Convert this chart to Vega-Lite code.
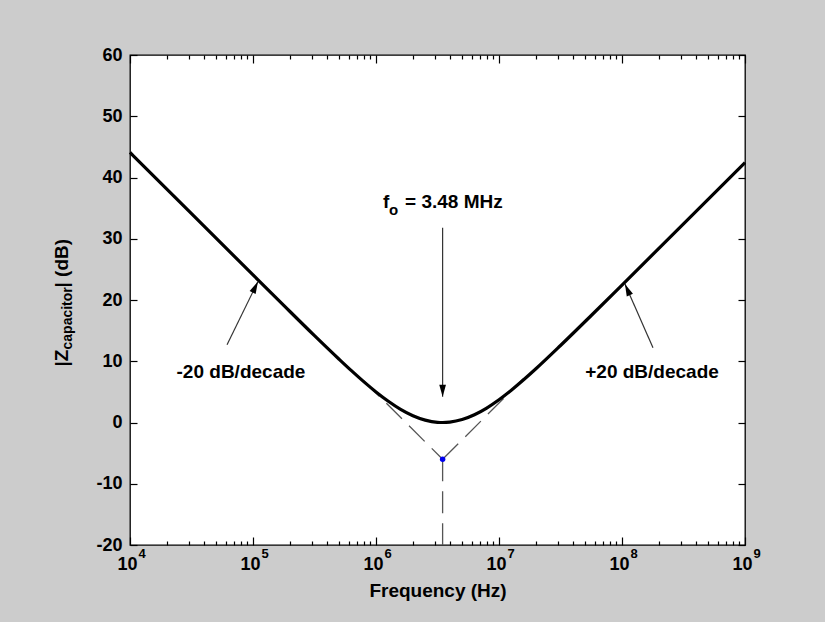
{
  "$schema": "https://vega.github.io/schema/vega-lite/v6.json",
  "width": 615,
  "height": 490,
  "autosize": {"type": "none"},
  "padding": {"left": 130, "top": 55, "right": 80, "bottom": 77},
  "background": "#cccccc",
  "config": {
    "view": {"fill": "white", "stroke": "black", "strokeWidth": 1.3},
    "axis": {
      "grid": false,
      "domain": false,
      "labelFlush": false,
      "tickColor": "black",
      "tickWidth": 1.2,
      "labelColor": "black",
      "labelFont": "Liberation Sans",
      "labelFontWeight": "bold",
      "labelFontSize": 18,
      "titleFont": "Liberation Sans",
      "titleFontWeight": "bold",
      "titleFontSize": 19,
      "titleColor": "black"
    },
    "text": {"font": "Liberation Sans", "fontWeight": "bold", "color": "black"}
  },
  "datasets": {
    "curve": [
      {"f": 10000, "db": 44.09},
      {"f": 31623, "db": 34.09},
      {"f": 100000, "db": 24.10},
      {"f": 177828, "db": 19.12},
      {"f": 316228, "db": 14.18},
      {"f": 501187, "db": 10.33},
      {"f": 630957, "db": 8.46},
      {"f": 794328, "db": 6.67},
      {"f": 1000000, "db": 4.99},
      {"f": 1258925, "db": 3.47},
      {"f": 1584893, "db": 2.15},
      {"f": 1995262, "db": 1.11},
      {"f": 2511886, "db": 0.39},
      {"f": 3162278, "db": 0.03},
      {"f": 3480000, "db": 0.0},
      {"f": 3981072, "db": 0.07},
      {"f": 5011872, "db": 0.48},
      {"f": 6309573, "db": 1.26},
      {"f": 7943282, "db": 2.36},
      {"f": 10000000, "db": 3.71},
      {"f": 12589254, "db": 5.27},
      {"f": 15848932, "db": 6.97},
      {"f": 19952623, "db": 8.77},
      {"f": 31622777, "db": 12.57},
      {"f": 56234133, "db": 17.47},
      {"f": 100000000, "db": 22.44},
      {"f": 316227766, "db": 32.43},
      {"f": 1000000000, "db": 42.42}
    ],
    "asym": [
      {"f1": 794328, "d1": 6.83, "f2": 3480000, "d2": -6},
      {"f1": 3480000, "d1": -6, "f2": 15848932, "d2": 7.17},
      {"f1": 3480000, "d1": -6, "f2": 3480000, "d2": -20}
    ],
    "corner": [{"f": 3480000, "db": -6}],
    "arrows": [
      {"id": "fo", "f1": 3480000, "d1": 31.8, "f2": 3480000, "d2": 4.2},
      {"id": "left", "f1": 61500, "d1": 12.7, "f2": 109600, "d2": 23.0},
      {"id": "right", "f1": 178600000, "d1": 12.2, "f2": 105700000, "d2": 22.6}
    ],
    "notes": [
      {"f": 79800, "db": 7.2, "text": "-20 dB/decade"},
      {"f": 175400000, "db": 7.2, "text": "+20 dB/decade"}
    ],
    "fo": [
      {"f": 1141000, "db": 35.1, "text": "f"},
      {"f": 1722000, "db": 35.1, "text": "= 3.48 MHz"}
    ],
    "fosub": [{"f": 1276000, "db": 33.8, "text": "o"}],
    "ytitle": [
      {"f": 2799, "db": 9.14, "text": "|Z"},
      {"f": 2799, "db": 22.04, "text": "| (dB)"}
    ],
    "ytitlesub": [{"f": 3133, "db": 11.92, "text": "capacitor"}]
  },
  "layer": [
    {
      "data": {"name": "asym"},
      "mark": {"type": "rule", "color": "#555555", "strokeWidth": 1.3, "strokeDash": [22, 10]},
      "encoding": {
        "x": {"field": "f1", "type": "quantitative",
              "scale": {"type": "log", "domain": [10000, 1000000000], "nice": false},
              "axis": {"orient": "bottom", "title": null, "labels": false, "tickSize": -4,
                       "values": [20000,30000,40000,50000,60000,70000,80000,90000,200000,300000,400000,500000,600000,700000,800000,900000,2000000,3000000,4000000,5000000,6000000,7000000,8000000,9000000,20000000,30000000,40000000,50000000,60000000,70000000,80000000,90000000,200000000,300000000,400000000,500000000,600000000,700000000,800000000,900000000]}},
        "x2": {"field": "f2"},
        "y": {"field": "d1", "type": "quantitative",
              "scale": {"domain": [-20, 60], "nice": false, "zero": false},
              "axis": {"orient": "right", "title": null, "labels": false, "tickSize": -7,
                       "values": [-20, -10, 0, 10, 20, 30, 40, 50, 60]}},
        "y2": {"field": "d2"}
      }
    },
    {
      "data": {"name": "curve"},
      "mark": {"type": "line", "color": "black", "strokeWidth": 3.2, "interpolate": "monotone"},
      "encoding": {
        "x": {"field": "f", "type": "quantitative",
              "scale": {"type": "log", "domain": [10000, 1000000000], "nice": false},
              "axis": {"orient": "bottom", "title": "Frequency (Hz)", "tickSize": -8, "labelPadding": 18,
                       "labelBaseline": "top", "labelOffset": -3, "labelExpr": "'10'", "titlePadding": 8,
                       "values": [10000, 100000, 1000000, 10000000, 100000000, 1000000000]}},
        "y": {"field": "db", "type": "quantitative",
              "scale": {"domain": [-20, 60], "nice": false, "zero": false},
              "axis": {"orient": "left", "title": null, "tickSize": -7, "labelPadding": 15,
                       "labelExpr": "datum.value < 0 ? '-' + (-datum.value) : '' + datum.value",
                       "values": [-20, -10, 0, 10, 20, 30, 40, 50, 60]}}
      }
    },
    {
      "data": {"name": "corner"},
      "mark": {"type": "point", "filled": true, "color": "#0000ee", "size": 30, "opacity": 1},
      "encoding": {
        "x": {"field": "f", "type": "quantitative",
              "scale": {"type": "log", "domain": [10000, 1000000000], "nice": false},
              "axis": {"orient": "top", "title": null, "labels": false, "tickSize": -8,
                       "values": [10000, 100000, 1000000, 10000000, 100000000, 1000000000]}},
        "y": {"field": "db", "type": "quantitative",
              "scale": {"domain": [-20, 60], "nice": false, "zero": false}, "axis": null}
      }
    },
    {
      "data": {"name": "arrows"},
      "mark": {"type": "rule", "color": "#333333", "strokeWidth": 1.2},
      "encoding": {
        "x": {"field": "f1", "type": "quantitative",
              "scale": {"type": "log", "domain": [10000, 1000000000], "nice": false},
              "axis": {"orient": "top", "title": null, "labels": false, "tickSize": -4,
                       "values": [20000,30000,40000,50000,60000,70000,80000,90000,200000,300000,400000,500000,600000,700000,800000,900000,2000000,3000000,4000000,5000000,6000000,7000000,8000000,9000000,20000000,30000000,40000000,50000000,60000000,70000000,80000000,90000000,200000000,300000000,400000000,500000000,600000000,700000000,800000000,900000000]}},
        "x2": {"field": "f2"},
        "y": {"field": "d1", "type": "quantitative",
              "scale": {"domain": [-20, 60], "nice": false, "zero": false}, "axis": null},
        "y2": {"field": "d2"}
      }
    },
    {
      "data": {"name": "arrows"},
      "transform": [{"filter": "datum.id == 'fo'"}],
      "mark": {"type": "point", "shape": "M0,0L-0.28,1L0.28,1Z", "size": 576, "filled": true, "color": "black", "opacity": 1, "angle": 180},
      "encoding": {
        "x": {"field": "f2", "type": "quantitative", "scale": {"type": "log", "domain": [10000, 1000000000], "nice": false}, "axis": null},
        "y": {"field": "d2", "type": "quantitative", "scale": {"domain": [-20, 60], "nice": false, "zero": false}, "axis": null}
      }
    },
    {
      "data": {"name": "arrows"},
      "transform": [{"filter": "datum.id == 'left'"}],
      "mark": {"type": "point", "shape": "M0,0L-0.28,1L0.28,1Z", "size": 576, "filled": true, "color": "black", "opacity": 1, "angle": 26},
      "encoding": {
        "x": {"field": "f2", "type": "quantitative", "scale": {"type": "log", "domain": [10000, 1000000000], "nice": false}, "axis": null},
        "y": {"field": "d2", "type": "quantitative", "scale": {"domain": [-20, 60], "nice": false, "zero": false}, "axis": null}
      }
    },
    {
      "data": {"name": "arrows"},
      "transform": [{"filter": "datum.id == 'right'"}],
      "mark": {"type": "point", "shape": "M0,0L-0.28,1L0.28,1Z", "size": 576, "filled": true, "color": "black", "opacity": 1, "angle": 336},
      "encoding": {
        "x": {"field": "f2", "type": "quantitative", "scale": {"type": "log", "domain": [10000, 1000000000], "nice": false}, "axis": null},
        "y": {"field": "d2", "type": "quantitative", "scale": {"domain": [-20, 60], "nice": false, "zero": false}, "axis": null}
      }
    },
    {
      "data": {"name": "notes"},
      "mark": {"type": "text", "fontSize": 19, "align": "center", "baseline": "alphabetic"},
      "encoding": {
        "x": {"field": "f", "type": "quantitative",
              "scale": {"type": "log", "domain": [10000, 1000000000], "nice": false},
              "axis": {"orient": "bottom", "title": null, "ticks": false, "labelPadding": 2,
                       "labelBaseline": "top", "labelAlign": "left", "labelOffset": 8, "labelFontSize": 13,
                       "labelExpr": "format(log(datum.value) / LN10, 'd')",
                       "values": [10000, 100000, 1000000, 10000000, 100000000, 1000000000]}},
        "y": {"field": "db", "type": "quantitative", "scale": {"domain": [-20, 60], "nice": false, "zero": false}, "axis": null},
        "text": {"field": "text"}
      }
    },
    {
      "data": {"name": "fo"},
      "mark": {"type": "text", "fontSize": 19, "align": "left", "baseline": "alphabetic"},
      "encoding": {
        "x": {"field": "f", "type": "quantitative", "scale": {"type": "log", "domain": [10000, 1000000000], "nice": false}, "axis": null},
        "y": {"field": "db", "type": "quantitative", "scale": {"domain": [-20, 60], "nice": false, "zero": false}, "axis": null},
        "text": {"field": "text"}
      }
    },
    {
      "data": {"name": "fosub"},
      "mark": {"type": "text", "fontSize": 15, "align": "left", "baseline": "alphabetic"},
      "encoding": {
        "x": {"field": "f", "type": "quantitative", "scale": {"type": "log", "domain": [10000, 1000000000], "nice": false}, "axis": null},
        "y": {"field": "db", "type": "quantitative", "scale": {"domain": [-20, 60], "nice": false, "zero": false}, "axis": null},
        "text": {"field": "text"}
      }
    },
    {
      "data": {"name": "ytitle"},
      "mark": {"type": "text", "fontSize": 19, "align": "left", "baseline": "middle", "angle": 270},
      "encoding": {
        "x": {"field": "f", "type": "quantitative", "scale": {"type": "log", "domain": [10000, 1000000000], "nice": false}, "axis": null},
        "y": {"field": "db", "type": "quantitative", "scale": {"domain": [-20, 60], "nice": false, "zero": false}, "axis": null},
        "text": {"field": "text"}
      }
    },
    {
      "data": {"name": "ytitlesub"},
      "mark": {"type": "text", "fontSize": 14, "align": "left", "baseline": "middle", "angle": 270},
      "encoding": {
        "x": {"field": "f", "type": "quantitative", "scale": {"type": "log", "domain": [10000, 1000000000], "nice": false}, "axis": null},
        "y": {"field": "db", "type": "quantitative", "scale": {"domain": [-20, 60], "nice": false, "zero": false}, "axis": null},
        "text": {"field": "text"}
      }
    }
  ],
  "resolve": {"axis": {"x": "independent", "y": "independent"}}
}
